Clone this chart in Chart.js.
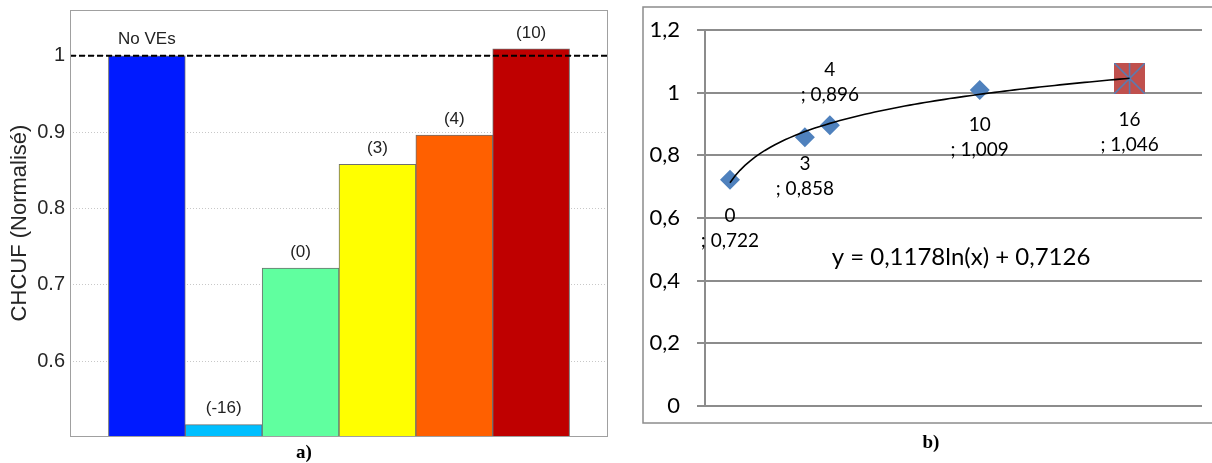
<!DOCTYPE html>
<html>
<head>
<meta charset="UTF-8">
<title>CHCUF</title>
<script src="https://cdn.jsdelivr.net/npm/chart.js@4.4.0/dist/chart.umd.min.js"></script>
<style>
    html, body { margin: 0; padding: 0; background: #fff; overflow: hidden; }
    #chartA { position: absolute; left: 0; top: 0; }
    #chartB { position: absolute; left: 612px; top: 0; }
</style>
</head>
<body>
<canvas id="chartA" width="612" height="463"></canvas>
<canvas id="chartB" width="600" height="463"></canvas>
<script>
// a) bar chart
const barLabels = ['No VEs', '(-16)', '(0)', '(3)', '(4)', '(10)'];
const barValues = [1.0, 0.517, 0.722, 0.858, 0.896, 1.009];
const barColors = ['#001aff', '#00bfff', '#60ff9f', '#ffff00', '#ff6000', '#bf0000'];
const refLevel = 1;

// b) scatter + log trend
const pointX = [0, 3, 4, 10, 16];
const pointY = [0.722, 0.858, 0.896, 1.009, 1.046];
const trendA = 0.1178;   // y = a ln(x) + b, as printed on the chart
const trendB = 0.7126;

// label layout for b) (pixels from the point centre to the first line)
const labelShift = [36, 27, -55, 35, 41];

const comma = (v, d) => v.toFixed(d).replace('.', ',');

// ---------- chart a ----------
const frameA = {
    id: 'frameA',
    afterDatasetsDraw(chart) {
        const c = chart.ctx, a = chart.chartArea;
        c.save();
        c.strokeStyle = '#a0a0a0';
        c.lineWidth = 1;
        c.strokeRect(a.left + 0.5, a.top + 0.5, a.right - a.left - 1, a.bottom - a.top);
        // bar captions
        const meta = chart.getDatasetMeta(1);
        c.font = '17px "Liberation Sans", Arial, sans-serif';
        c.fillStyle = '#222';
        c.textAlign = 'center';
        c.textBaseline = 'middle';
        meta.data.forEach((bar, i) => {
            if (i === 0 || i === barLabels.length + 1) return;
            c.fillText(barLabels[i - 1], bar.x, bar.y - 16);
        });
        c.restore();
    }
};

new Chart(document.getElementById('chartA'), {
    data: {
        labels: ['', ...barLabels, ''],
        datasets: [{
            type: 'line',
            data: new Array(barLabels.length + 2).fill(refLevel),
            borderColor: '#000',
            borderWidth: 2,
            borderDash: [6, 3],
            pointRadius: 0
        }, {
            type: 'bar',
            data: [null, ...barValues, null],
            backgroundColor: ['', ...barColors, ''],
            borderColor: '#6f6f6f',
            borderWidth: 1,
            categoryPercentage: 1,
            barPercentage: 1
        }]
    },
    options: {
        responsive: false,
        animation: false,
        events: [],
        layout: { padding: { top: 10, right: 4, left: 0, bottom: 0 } },
        plugins: {
            legend: { display: false },
            tooltip: { enabled: false },
            title: {
                display: true,
                text: 'a)',
                position: 'bottom',
                color: '#000',
                font: { family: '"Liberation Serif", "Times New Roman", serif', size: 19, weight: 'bold', lineHeight: 1 },
                padding: { top: 8, bottom: 0 }
            }
        },
        scales: {
            x: { display: false, offset: false },
            y: {
                min: 0.502,
                max: 1.06,
                afterFit(s) { s.width = 70; s.paddingTop = 0; s.paddingBottom = 0; },
                border: { display: false, dash: [1, 2] },
                grid: { color: '#c8c8c8', drawTicks: false },
                ticks: {
                    stepSize: 0.1,
                    includeBounds: false,
                    padding: 5,
                    color: '#262626',
                    font: { family: '"Liberation Sans", Arial, sans-serif', size: 20 },
                    callback: v => String(+v.toFixed(2))
                },
                title: {
                    display: true,
                    text: 'CHCUF (Normalisé)',
                    color: '#262626',
                    font: { family: '"Liberation Sans", Arial, sans-serif', size: 22 },
                    padding: { top: 7, bottom: 0 }
                }
            }
        }
    },
    plugins: [frameA]
});

// ---------- chart b ----------
const starMarker = document.createElement('canvas');
starMarker.width = 31;
starMarker.height = 31;
(function () {
    const m = starMarker.getContext('2d');
    m.fillStyle = '#c0504d';
    m.fillRect(0, 0, 31, 31);
    m.strokeStyle = '#4f81bd';
    m.lineWidth = 1.5;
    m.beginPath();
    m.moveTo(15.5, 0); m.lineTo(15.5, 31);
    m.moveTo(0, 0); m.lineTo(31, 31);
    m.moveTo(31, 0); m.lineTo(0, 31);
    m.stroke();
})();

// trend curve from the printed equation (fit used x + 1)
const trendPts = [];
for (let x = 0; x <= pointX[pointX.length - 1]; x += 0.2) {
    trendPts.push({ x: x, y: trendA * Math.log(x + 1) + trendB });
}

const labelsB = {
    id: 'labelsB',
    beforeDraw(chart) {
        const c = chart.ctx;
        c.save();
        c.strokeStyle = '#8c8c8c';
        c.lineWidth = 1.5;
        c.strokeRect(31, 7, chart.width, 416);
        c.restore();
    },
    afterDatasetsDraw(chart) {
        const c = chart.ctx;
        const meta = chart.getDatasetMeta(1);
        c.save();
        c.fillStyle = '#000';
        c.textAlign = 'center';
        c.textBaseline = 'middle';
        c.font = '19px Lato, "Open Sans", sans-serif';
        meta.data.forEach((pt, i) => {
            const y1 = pt.y + labelShift[i];
            c.fillText(String(pointX[i]), pt.x, y1);
            c.fillText('; ' + comma(pointY[i], 3), pt.x, y1 + 25);
        });
        const xs = chart.scales.x, ys = chart.scales.y;
        c.font = '24px Lato, "Open Sans", sans-serif';
        c.fillText('y = ' + comma(trendA, 4) + 'ln(x) + ' + comma(trendB, 4),
            xs.getPixelForValue(9.25), ys.getPixelForValue(0.474));
        c.restore();
    }
};

new Chart(document.getElementById('chartB'), {
    type: 'scatter',
    data: {
        datasets: [{
            data: trendPts,
            showLine: true,
            borderColor: '#000',
            borderWidth: 1.6,
            pointRadius: 0
        }, {
            data: pointX.map((x, i) => ({ x: x, y: pointY[i] })),
            pointStyle: ctx => ctx.dataIndex === pointX.length - 1 ? starMarker : 'rectRot',
            pointRadius: 10,
            pointBackgroundColor: '#4f81bd',
            pointBorderWidth: 0
        }]
    },
    options: {
        responsive: false,
        animation: false,
        events: [],
        layout: { padding: { top: 26, right: 0, left: 38, bottom: 10.5 } },
        plugins: {
            legend: { display: false },
            tooltip: { enabled: false },
            title: {
                display: true,
                text: 'b)',
                position: 'bottom',
                color: '#000',
                font: { family: '"Liberation Serif", "Times New Roman", serif', size: 19, weight: 'bold', lineHeight: 1 },
                padding: { top: 27.8, bottom: 0 }
            }
        },
        scales: {
            x: { type: 'linear', display: false, min: -1, max: 18.9 },
            y: {
                min: 0,
                max: 1.2,
                afterFit(s) { s.width = 55; },
                border: { display: true, color: '#8c8c8c', width: 2 },
                grid: { color: '#8c8c8c', lineWidth: 2, tickLength: 8 },
                ticks: {
                    stepSize: 0.2,
                    padding: 17,
                    color: '#000',
                    font: { family: 'Lato, "Open Sans", sans-serif', size: 22 },
                    callback: v => comma(v, 1).replace(/,0$/, '')
                }
            }
        }
    },
    plugins: [labelsB]
});
</script>
</body>
</html>
